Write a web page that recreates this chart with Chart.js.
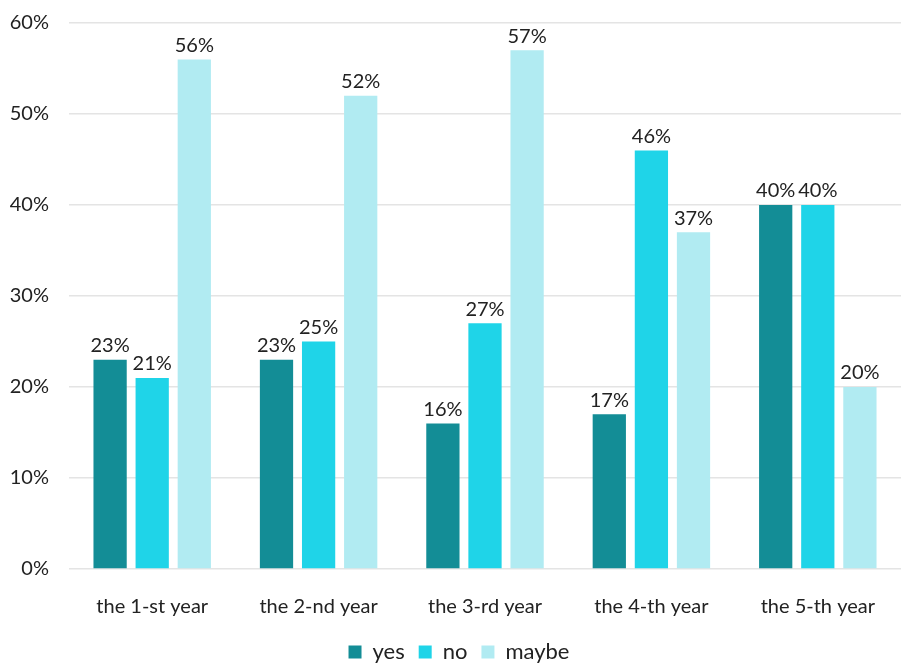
<!DOCTYPE html>
<html>
<head>
<meta charset="utf-8">
<script src="https://cdn.jsdelivr.net/npm/chart.js@4.4.0/dist/chart.umd.min.js"></script>
<style>
  body { margin: 0; background: #fff; }
  #wrap { width: 901px; height: 665px; }
</style>
</head>
<body>
<div id="wrap"><canvas id="myChart" width="901" height="665"></canvas></div>
<script>
var categories = ["the 1-st year", "the 2-nd year", "the 3-rd year", "the 4-th year", "the 5-th year"];
var yesValues = [23, 23, 16, 17, 40];
var noValues = [21, 25, 27, 46, 40];
var maybeValues = [56, 52, 57, 37, 20];
var yTicks = [0, 10, 20, 30, 40, 50, 60];

// draws the value above each bar
var barLabels = {
    id: 'barLabels',
    afterDatasetsDraw: function (chart) {
        var ctx = chart.ctx;
        ctx.save();
        ctx.font = '20px Lato';
        ctx.fillStyle = '#222';
        ctx.textAlign = 'center';
        ctx.textBaseline = 'bottom';
        chart.data.datasets.forEach(function (ds, i) {
            chart.getDatasetMeta(i).data.forEach(function (bar, j) {
                ctx.fillText(ds.data[j] + '%', bar.x, bar.y - 4);
            });
        });
        ctx.restore();
    }
};

var ctx = document.getElementById('myChart').getContext('2d');
var chart = new Chart(ctx, {
    type: 'bar',
    data: {
        labels: categories,
        datasets: [
            { label: 'yes', data: yesValues, backgroundColor: '#138d96' },
            { label: 'no', data: noValues, backgroundColor: '#1fd4e8' },
            { label: 'maybe', data: maybeValues, backgroundColor: '#b1ebf2' }
        ]
    },
    options: {
        responsive: false,
        animation: false,
        layout: { padding: { top: 23, right: -8, left: 9, bottom: -8 } },
        categoryPercentage: 0.759,
        barPercentage: 0.79,
        scales: {
            x: {
                grid: { display: false },
                border: { display: false },
                ticks: { color: '#222', font: { family: 'Lato', size: 20 }, padding: 18 },
                afterFit: function (axis) {
                    axis.height = 58;
                    axis.paddingLeft = 0;
                    axis.paddingRight = 0;
                }
            },
            y: {
                min: 0,
                max: 60,
                afterBuildTicks: function (axis) {
                    axis.ticks = yTicks.map(function (v) { return { value: v }; });
                },
                afterFit: function (axis) {
                    axis.width = 60;
                    axis.paddingTop = 0;
                    axis.paddingBottom = 0;
                },
                grid: { color: '#e4e4e4', lineWidth: 1.5, drawTicks: false },
                border: { display: false },
                ticks: {
                    color: '#222',
                    font: { family: 'Lato', size: 20 },
                    padding: 20,
                    callback: function (v) { return v + '%'; }
                }
            }
        },
        plugins: {
            tooltip: { enabled: false },
            legend: {
                position: 'bottom',
                labels: {
                    color: '#222',
                    font: { family: 'Lato', size: 22 },
                    boxWidth: 13,
                    boxHeight: 13,
                    padding: 14
                }
            }
        }
    },
    plugins: [barLabels]
});
</script>
</body>
</html>
